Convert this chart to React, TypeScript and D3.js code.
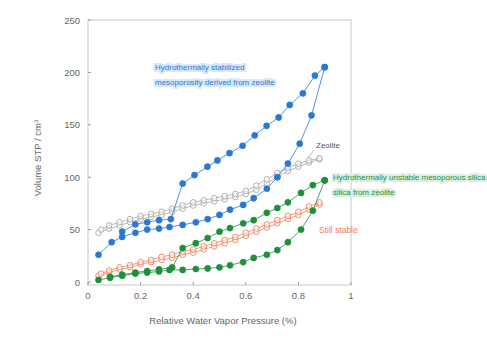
import React from "react";
import * as d3 from "d3";

const xTicks = [0, 0.2, 0.4, 0.6, 0.8, 1];
const xTickLabels = ["0", "0.2", "0.4", "0.6", "0.8", "1"];
const yTicks = [0, 50, 100, 150, 200, 250];

const blueAdsX = [0.04, 0.09, 0.13, 0.18, 0.225, 0.27, 0.31, 0.36, 0.41, 0.455, 0.5, 0.54, 0.59, 0.63, 0.68, 0.72, 0.76, 0.805, 0.85, 0.9];
const blueAdsY = [26, 38, 43, 47, 50, 51, 52.5, 54.5, 57, 60, 64, 69, 73.5, 80, 89, 100, 113, 132, 159, 205];
const blueDesX = [0.9, 0.863, 0.817, 0.767, 0.725, 0.679, 0.634, 0.588, 0.538, 0.492, 0.454, 0.405, 0.36, 0.315, 0.27, 0.225, 0.18, 0.13];
const blueDesY = [205, 197, 180, 169, 157, 149, 140, 130, 123, 116, 110, 102, 94, 60, 59, 57, 55, 48];

const zeoAdsX = [0.04, 0.08, 0.12, 0.16, 0.2, 0.24, 0.28, 0.32, 0.36, 0.4, 0.44, 0.48, 0.52, 0.56, 0.6, 0.64, 0.68, 0.72, 0.76, 0.8, 0.84, 0.88];
const zeoAdsY = [47, 51, 54, 57, 60, 62, 64, 67, 70, 73, 75, 77, 79, 81, 84, 88, 94, 100, 106, 110, 114, 117];
const zeoDesX = [0.88, 0.84, 0.8, 0.76, 0.72, 0.68, 0.64, 0.6, 0.56, 0.52, 0.48, 0.44, 0.4, 0.36, 0.32, 0.28, 0.24, 0.2, 0.16, 0.12, 0.08, 0.05];
const zeoDesY = [118, 116, 113, 109, 104, 98, 92, 87, 84, 82, 80, 78, 76, 73, 70, 67, 65, 63, 60, 57, 54, 50];

const orgAdsX = [0.04, 0.08, 0.12, 0.16, 0.2, 0.24, 0.28, 0.32, 0.36, 0.4, 0.44, 0.48, 0.52, 0.56, 0.6, 0.64, 0.68, 0.72, 0.76, 0.8, 0.84, 0.88];
const orgAdsY = [6, 9, 12, 14, 17, 19, 21, 23, 26, 28, 31, 34, 37, 40, 44, 48, 52, 56, 60, 64, 69, 74];
const orgDesX = [0.88, 0.84, 0.8, 0.76, 0.72, 0.68, 0.64, 0.6, 0.56, 0.52, 0.48, 0.44, 0.4, 0.36, 0.32, 0.28, 0.24, 0.2, 0.16, 0.12, 0.08, 0.05];
const orgDesY = [76, 72, 67, 63, 59, 55, 51, 47, 43, 40, 37, 34, 31, 29, 26, 24, 21, 19, 16, 14, 11, 8];

const grnAdsX = [0.04, 0.084, 0.13, 0.18, 0.225, 0.27, 0.31, 0.36, 0.41, 0.455, 0.5, 0.54, 0.59, 0.63, 0.68, 0.72, 0.76, 0.81, 0.855, 0.9];
const grnAdsY = [2, 4, 6, 8, 9, 10, 11.5, 11.5, 12.4, 13, 14, 16, 19, 23, 26, 30.5, 38, 50, 68, 97];
const grnDesX = [0.9, 0.855, 0.81, 0.76, 0.72, 0.68, 0.63, 0.59, 0.54, 0.5, 0.455, 0.41, 0.36, 0.32, 0.27, 0.225, 0.18, 0.13, 0.084];
const grnDesY = [97, 92.5, 85, 76, 70.6, 66, 59, 56, 51.5, 48, 42, 37, 32.4, 14, 12, 10.5, 9, 7, 5];

const BLUE = "#2a78d4";
const GREEN = "#1f8f3c";
const ORANGE = "#f0805a";
const GRAY = "#a8a8a8";

const W = 487;
const H = 342;
const L = 88, R = 351, T = 20, B = 285;

export default function App() {
  const x = d3.scaleLinear().domain([0, 1]).range([L, R]);
  const y = d3.scaleLinear().domain([0, 250]).range([282, T]);
  const line = d3.line<[number, number]>().x(d => x(d[0])).y(d => y(d[1]));
  const pts = (xs: number[], ys: number[]) => xs.map((v, i) => [v, ys[i]] as [number, number]);

  const series = [
    { xs: orgAdsX, ys: orgAdsY, color: ORANGE, hollow: true },
    { xs: orgDesX, ys: orgDesY, color: ORANGE, hollow: true },
    { xs: zeoAdsX, ys: zeoAdsY, color: GRAY, hollow: true },
    { xs: zeoDesX, ys: zeoDesY, color: GRAY, hollow: true },
    { xs: grnAdsX, ys: grnAdsY, color: GREEN, hollow: false },
    { xs: grnDesX, ys: grnDesY, color: GREEN, hollow: false },
    { xs: blueAdsX, ys: blueAdsY, color: BLUE, hollow: false },
    { xs: blueDesX, ys: blueDesY, color: BLUE, hollow: false },
  ];

  const font = "'Liberation Sans', Arial, sans-serif";

  return (
    <svg width={W} height={H} style={{ position: "absolute", left: 0, top: 0, background: "#fff" }} fontFamily={font}>
      <rect x={L} y={T} width={R - L} height={B - T} fill="none" stroke="#c8c8c8" strokeWidth={1} />
      {yTicks.map(t => (
        <g key={"y" + t}>
          <line x1={L} x2={L + 3} y1={y(t)} y2={y(t)} stroke="#999" />
          <text x={80} y={y(t) + 3.5} fontSize={9.5} fill="#666" textAnchor="end">{t}</text>
        </g>
      ))}
      {xTicks.map((t, i) => (
        <g key={"x" + t}>
          <line x1={x(t)} x2={x(t)} y1={B} y2={B - 3} stroke="#999" />
          <text x={x(t)} y={299} fontSize={9.5} fill="#666" textAnchor="middle">{xTickLabels[i]}</text>
        </g>
      ))}
      <text x={223} y={324} fontSize={9.5} fill="#666" textAnchor="middle">Relative Water Vapor Pressure (%)</text>
      <text transform="translate(41,158) rotate(-90)" fontSize={9.5} fill="#666" textAnchor="middle">
        Volume STP / cm<tspan dy={-3} fontSize={6}>3</tspan>
      </text>

      {series.map((s, i) => (
        <g key={"s" + i}>
          <path d={line(pts(s.xs, s.ys)) || ""} fill="none" stroke={s.color} strokeWidth={0.8} />
          {pts(s.xs, s.ys).map((p, j) => (
            <circle key={j} cx={x(p[0])} cy={y(p[1])} r={s.hollow ? 2.8 : 3.1}
              fill={s.hollow ? "#fff" : s.color} fillOpacity={s.hollow ? 0.6 : 1}
              stroke={s.color} strokeWidth={s.hollow ? 0.9 : 0.5} />
          ))}
        </g>
      ))}

      <g fontSize={8}>
        <text x={155} y={70} fill={BLUE} stroke="#d8e8fa" strokeWidth={4} paintOrder="stroke">Hydrothermally stabilized</text>
        <text x={155} y={85} fill={BLUE} stroke="#d8e8fa" strokeWidth={4} paintOrder="stroke">mesoporosity derived from zeolite</text>
        <text x={316} y={148} fill="#555">Zeolite</text>
        <line x1={314} y1={150} x2={308} y2={158} stroke="#888" strokeWidth={0.6} />
        <text x={333} y={180} fill={GREEN} stroke="#dcefdf" strokeWidth={4} paintOrder="stroke">Hydrothermally unstable mesoporous silica</text>
        <text x={333} y={195} fill={GREEN} stroke="#dcefdf" strokeWidth={4} paintOrder="stroke">silica from zeolite</text>
        <text x={319} y={233} fill={ORANGE} fontSize={8.5}>Still stable</text>
      </g>
    </svg>
  );
}
